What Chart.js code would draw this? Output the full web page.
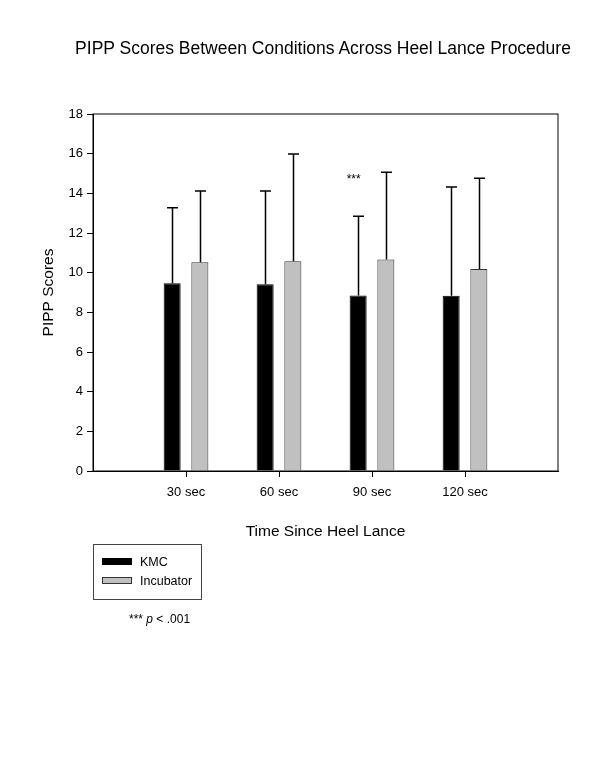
<!DOCTYPE html>
<html>
<head>
<meta charset="utf-8">
<script src="https://cdn.jsdelivr.net/npm/chart.js@4/dist/chart.umd.min.js"></script>
<style>
  html, body { margin: 0; padding: 0; background: #fff; }
  #wrap { position: relative; width: 600px; height: 776px; font-family: "Liberation Sans", Arial, sans-serif; color: #000; }
  #c { position: absolute; left: 0; top: 0; }
  #title { position: absolute; left: 0; width: 646px; top: 40px; text-align: center; font-size: 17.5px; line-height: 1; white-space: nowrap; }
  #legend { position: absolute; left: 93px; top: 544px; width: 107px; height: 54px; border: 1px solid #444; }
  .item { position: absolute; left: 8px; height: 16px; font-size: 12.5px; line-height: 16px; }
  .sw { position: absolute; left: 0; top: 4px; width: 30px; height: 7px; box-sizing: border-box; }
  .lbl { position: absolute; left: 38px; top: 0; white-space: nowrap; }
  #note { position: absolute; left: 129px; top: 611px; font-size: 12px; line-height: 16px; white-space: nowrap; }
</style>
</head>
<body>
<div id="wrap">
  <canvas id="c" width="600" height="776"></canvas>
  <div id="title"></div>
  <div id="legend"></div>
  <div id="note">*** <i>p</i> &lt; .001</div>
</div>
<script>
// ---- data ----
const chartTitle = 'PIPP Scores Between Conditions Across Heel Lance Procedure';
const categories = ['30 sec', '60 sec', '90 sec', '120 sec'];
const seriesNames = ['KMC', 'Incubator'];
const kmcMeans = [9.47, 9.41, 8.85, 8.83];
const kmcErrors = [3.80, 4.71, 3.99, 5.49];
const incubatorMeans = [10.53, 10.58, 10.66, 10.18];
const incubatorErrors = [3.59, 5.40, 4.40, 4.58];
const yTicks = [0, 2, 4, 6, 8, 10, 12, 14, 16, 18];
const sigCategory = '90 sec';
const sigSeries = 'KMC';
const sigLabel = '***';
const sigValue = 14.7;

const colors = { 'KMC': '#000000', 'Incubator': '#c0c0c0' };
const borders = { 'KMC': '#000000', 'Incubator': '#333333' };

const FONT = '"Liberation Sans", Arial, sans-serif';

document.getElementById('title').textContent = chartTitle;

const toPoints = arr => arr.map((v, i) => ({ x: i + 1, y: v }));

const datasets = [
  { label: 'KMC', data: toPoints(kmcMeans), errors: kmcErrors,
    backgroundColor: colors['KMC'], borderColor: borders['KMC'], borderWidth: 1 },
  { label: 'Incubator', data: toPoints(incubatorMeans), errors: incubatorErrors,
    backgroundColor: colors['Incubator'], borderColor: borders['Incubator'], borderWidth: 1 }
];

// HTML legend
const legend = document.getElementById('legend');
seriesNames.forEach((name, i) => {
  const it = document.createElement('div');
  it.className = 'item';
  it.style.top = (9 + i * 18.5) + 'px';
  const sw = document.createElement('div');
  sw.className = 'sw';
  sw.style.background = colors[name];
  sw.style.border = '1px solid ' + borders[name];
  const lb = document.createElement('span');
  lb.className = 'lbl';
  lb.textContent = name;
  it.appendChild(sw); it.appendChild(lb);
  legend.appendChild(it);
});

const framePlugin = {
  id: 'frame',
  afterDraw(chart) {
    const { ctx, chartArea: a } = chart;
    ctx.save();
    ctx.strokeStyle = '#000';
    ctx.lineWidth = 1;
    ctx.strokeRect(a.left, a.top, a.right - a.left, a.bottom - a.top);
    ctx.restore();
  }
};

const errorBarPlugin = {
  id: 'errorBars',
  afterDatasetsDraw(chart) {
    const { ctx } = chart;
    const yScale = chart.scales.y;
    ctx.save();
    ctx.strokeStyle = '#000';
    ctx.lineWidth = 1.5;
    chart.data.datasets.forEach((ds, di) => {
      const meta = chart.getDatasetMeta(di);
      meta.data.forEach((bar, i) => {
        const top = yScale.getPixelForValue(ds.data[i].y + ds.errors[i]);
        const x = Math.round(bar.x) + 0.5;
        ctx.beginPath();
        ctx.moveTo(x, bar.y);
        ctx.lineTo(x, top);
        ctx.moveTo(x - 5.5, top);
        ctx.lineTo(x + 5.5, top);
        ctx.stroke();
      });
    });
    // significance mark
    const di = seriesNames.indexOf(sigSeries);
    const ci = categories.indexOf(sigCategory);
    const bar = chart.getDatasetMeta(di).data[ci];
    ctx.fillStyle = '#000';
    ctx.font = '12px ' + FONT;
    ctx.textAlign = 'center';
    ctx.textBaseline = 'middle';
    ctx.fillText(sigLabel, bar.x - 4.5, yScale.getPixelForValue(sigValue));
    ctx.restore();
  }
};

new Chart(document.getElementById('c'), {
  type: 'bar',
  data: { datasets },
  plugins: [framePlugin, errorBarPlugin],
  options: {
    responsive: false,
    animation: false,
    devicePixelRatio: 1,
    categoryPercentage: 0.596,
    barPercentage: 0.614,
    layout: { padding: { left: 39, right: 42, top: 114, bottom: 235.4 } },
    plugins: {
      legend: { display: false },
      tooltip: { enabled: false },
      title: { display: false }
    },
    scales: {
      x: {
        type: 'linear',
        min: 0, max: 5,
        offset: false,
        afterBuildTicks(scale) { scale.ticks = categories.map((c, i) => ({ value: i + 1 })); },
        ticks: {
          callback: (v) => categories[v - 1],
          color: '#000',
          font: { family: FONT, size: 13, lineHeight: 1.2 },
          padding: 8,
          maxRotation: 0,
          autoSkip: false
        },
        grid: { display: true, offset: false, drawOnChartArea: false, drawTicks: true, tickLength: 6, color: '#000', tickColor: '#000' },
        border: { display: true, color: '#000', width: 1 },
        title: {
          display: true, text: 'Time Since Heel Lance', color: '#000',
          font: { family: FONT, size: 15.5, lineHeight: 1.2 },
          padding: { top: 13.4, bottom: 0 }
        }
      },
      y: {
        min: 0, max: 18,
        afterBuildTicks(scale) { scale.ticks = yTicks.map(v => ({ value: v })); },
        afterFit(scale) { scale.width = 54; },
        ticks: {
          color: '#000',
          font: { family: FONT, size: 13, lineHeight: 1.2 },
          padding: 4
        },
        grid: { display: true, drawOnChartArea: false, drawTicks: true, tickLength: 6, color: '#000', tickColor: '#000' },
        border: { display: true, color: '#000', width: 1 },
        title: {
          display: true, text: 'PIPP Scores', color: '#000',
          font: { family: FONT, size: 15.5, lineHeight: 1.2 },
          padding: { top: 0, bottom: 0 }
        }
      }
    }
  }
});
</script>
</body>
</html>
